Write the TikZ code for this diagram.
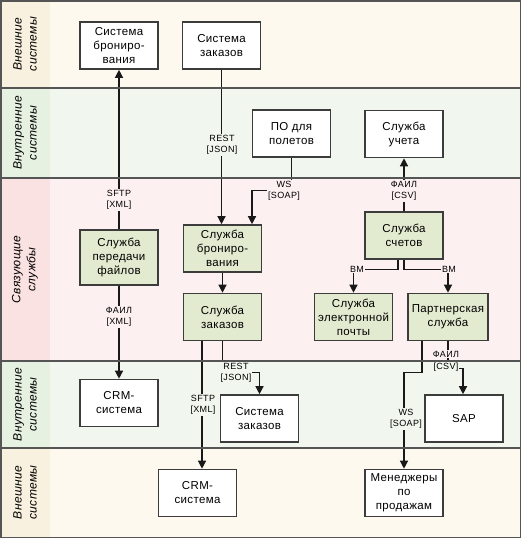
\documentclass[tikz,border=0pt]{standalone}
\usepackage{fontspec}
\setmainfont{Liberation Sans}
\newfontfamily\lblfont[LetterSpace=4]{Liberation Sans}
\newfontfamily\boxfont[LetterSpace=3]{Liberation Sans}
\usetikzlibrary{arrows.meta,calc}
\definecolor{extbg}{RGB}{253,249,238}
\definecolor{extlab}{RGB}{249,241,224}
\definecolor{intbg}{RGB}{241,247,238}
\definecolor{intlab}{RGB}{231,241,226}
\definecolor{conbg}{RGB}{253,240,240}
\definecolor{conlab}{RGB}{251,226,226}
\definecolor{greenbox}{RGB}{226,235,208}
\definecolor{edge}{RGB}{60,60,60}
\definecolor{laneline}{RGB}{85,85,85}
\tikzset{
 sysbox/.style={draw=edge, line width=1.6pt, fill=white, minimum width=78pt, minimum height=47pt, align=center, inner sep=1pt, font={\fontsize{11.5}{14}\boxfont}},
 svcbox/.style={sysbox, fill=greenbox},
 conn/.style={draw=black!90, line width=1.3pt},
 arr/.style={conn, -{Triangle[length=8pt,width=8pt]}},
 lbl/.style={font={\fontsize{9}{11.5}\lblfont}, align=center, inner sep=1pt},
 lanetext/.style={rotate=90, font={\fontsize{12}{15}\boxfont\itshape}, align=center},
 lanesep/.style={draw=laneline, line width=1.5pt},
}
\begin{document}
\begin{tikzpicture}[x=1pt,y=-1pt]
\useasboundingbox (0,0) rectangle (521,538);
% lanes
\fill[extbg] (0,0) rectangle (521,88);
\fill[intbg] (0,88) rectangle (521,178);
\fill[conbg] (0,178) rectangle (521,361);
\fill[intbg] (0,361) rectangle (521,448);
\fill[extbg] (0,448) rectangle (521,538);
\fill[extlab] (0,0) rectangle (50,88);
\fill[intlab] (0,88) rectangle (50,178);
\fill[conlab] (0,178) rectangle (50,361);
\fill[intlab] (0,361) rectangle (50,448);
\fill[extlab] (0,448) rectangle (50,538);
\node[lanetext] (t1) at (25,44) {Внешние\\системы};
\node[lanetext] (t2) at (25,133) {Внутренние\\системы};
\node[lanetext] (t3) at (25,269.5) {Связующие\\службы};
\node[lanetext] (t4) at (25,404.5) {Внутренние\\системы};
\node[lanetext] (t5) at (25,492.5) {Внешние\\системы};
% boxes
\node[sysbox] (sb1) at (119,45.5) {Система\\брониро-\\вания};
\node[sysbox] (sz1) at (221.5,45.5) {Система\\заказов};
\node[sysbox] (po) at (291.5,133.5) {ПО для\\полетов};
\node[sysbox] (su) at (404,134) {Служба\\учета};
\node[svcbox, minimum height=55pt] (spf) at (119,257.5) {Служба\\передачи\\файлов};
\node[svcbox] (sbr) at (222.5,248.5) {Служба\\брониро-\\вания};
\node[svcbox] (szk) at (222.5,317) {Служба\\заказов};
\node[svcbox] (ss) at (404,235.5) {Служба\\счетов};
\node[svcbox] (sep) at (353.5,317) {Служба\\электронной\\почты};
\node[svcbox, minimum width=80pt] (ps) at (448,317) {Партнерская\\служба};
\node[sysbox] (crm1) at (119,403) {CRM-\\система};
\node[sysbox] (sz2) at (259.5,418.5) {Система\\заказов};
\node[sysbox] (sap) at (464,418.5) {SAP};
\node[sysbox] (crm2) at (197.5,493) {CRM-\\система};
\node[sysbox] (mgr) at (404,493) {Менеджеры\\по\\продажам};
% connectors
\draw[arr] (spf.north) -- (sb1.south);
\draw[arr] (spf.south) -- (crm1.north);
\draw[arr] (sz1.south) -- (sz1.south |- sbr.north);
\draw[arr] (po.south) -- ++(0,33) -| ([xshift=29.5pt]sbr.north);
\draw[arr] (sbr.south) -- (szk.north);
\draw[arr] (ss.north) -- (su.south);
\draw[arr] ([xshift=-6pt]ss.south) -- ++(0,10) -| (sep.north);
\draw[arr] (ss.south) -- ++(0,10) -| (ps.north);
\draw[arr] ([xshift=-20.5pt]szk.south) -- ([xshift=-20.5pt]szk.south |- crm2.north);
\draw[arr] (szk.south) -- ++(0,31) -| (sz2.north);
\draw[arr] (ps.south) -- ++(0,27) -| ([xshift=-1pt]sap.north);
\draw[arr] ([xshift=-26pt]ps.south) -- ++(0,31) -| (mgr.north);
% labels
\node[lbl, fill=conbg] (l1) at (119,200) {SFTP\\{[XML]}};
\node[lbl, fill=conbg] (l2) at (119,317) {ФАИЛ\\{[XML]}};
\node[lbl, fill=intbg] (l3) at (222,145) {REST\\{[JSON]}};
\node[lbl, fill=conbg] (l4) at (284,191) {WS\\{[SOAP]}};
\node[lbl, fill=conbg] (l5) at (404,191) {ФАИЛ\\{[CSV]}};
\node[lbl, fill=conbg] (l6) at (357,269) {ВМ};
\node[lbl, fill=conbg] (l7) at (449,269) {ВМ};
\node[lbl, fill=intbg] (l8) at (203,405) {SFTP\\{[XML]}};
\node[lbl, fill=intbg] (l9) at (236,373) {REST\\{[JSON]}};
\node[lbl, fill=conbg] (l10) at (446,354) {ФАИЛ};
\node[lbl, fill=intbg] (l11) at (446,367) {[CSV]};
\node[lbl, fill=intbg] (l12) at (406,419) {WS\\{[SOAP]}};
% lane separators and border
\draw[lanesep] (0,88) -- (521,88);
\draw[lanesep] (0,178) -- (521,178);
\draw[lanesep] (0,361) -- (521,361);
\draw[lanesep] (0,448) -- (521,448);
\draw[lanesep] (0.75,0.75) rectangle (520.25,537.25);
\end{tikzpicture}
\end{document}
